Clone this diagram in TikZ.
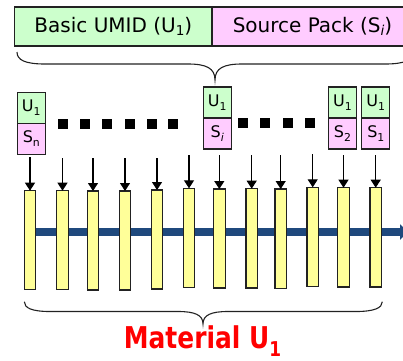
\documentclass[tikz,border=0pt]{standalone}
\usepackage{fontspec}
\setmainfont{DejaVu Sans}
\newfontfamily\matfont{DejaVu Sans}[FakeStretch=0.83]
\usetikzlibrary{arrows.meta,backgrounds}
\definecolor{ugreen}{HTML}{CCFFCC}
\definecolor{spink}{HTML}{FFCCFF}
\definecolor{byellow}{HTML}{FFFF99}
\definecolor{ublue}{HTML}{1F497D}
\definecolor{edge}{HTML}{222222}
\newcommand\mysub[2][0.3ex]{\raisebox{-#1}{\scalebox{0.68}{#2}}}
\tikzset{
  barpart/.style={draw=edge, line width=1.4pt, inner sep=0pt, outer sep=0pt,
    minimum height=39pt, anchor=north west, font=\fontsize{20}{24}\selectfont},
  cell/.style={draw=edge, line width=1.3pt, inner sep=0pt, outer sep=0pt,
    minimum width=28pt, minimum height=31pt, font=\fontsize{16}{19}\selectfont},
  ucell/.style={cell, fill=ugreen, anchor=north west},
  scell/.style={cell, fill=spink, anchor=north},
  frame/.style={draw=edge, line width=1.1pt, inner sep=0pt, outer sep=0pt,
    fill=byellow, minimum width=11.5pt, anchor=north},
  feed/.style={draw=black, line width=1.1pt, -{Triangle[length=8pt,width=10pt]}},
  dot/.style={fill=black, inner sep=0pt, minimum size=10pt},
  brace/.style={draw=edge, line width=1.1pt}
}
\begin{document}
\begin{tikzpicture}[x=1pt,y=-1pt]
\useasboundingbox (0,0) rectangle (403,360);
% top bar
\node[barpart, fill=ugreen, minimum width=197.3pt] (umid) at (14.7,7) {Basic UMID (U\mysub[0.25ex]{1})};
\node[barpart, fill=spink, minimum width=201pt] (spack) at (212,7) {Source Pack (S\mysub[0.25ex]{\itshape i})};
% top brace
\draw[brace] (17,52) .. controls (17,60) and (25,64) .. (45,64) -- (188,64)
  .. controls (206,64) and (215,68) .. (215,80)
  .. controls (215,68) and (224,64) .. (242,64) -- (385,64)
  .. controls (405,64) and (413,60) .. (413,52);
% small UMID boxes
\node[ucell] (un) at (17.3,92.3) {U\mysub[0.4ex]{1}};
\node[scell] (sn) at (un.south) {S\mysub[0.4ex]{n}};
\node[ucell] (ui) at (203.3,87) {U\mysub[0.4ex]{1}};
\node[scell] (si) at (ui.south) {S\mysub[0.4ex]{\itshape i}};
\node[ucell] (u2) at (328.5,87) {U\mysub[0.4ex]{1}};
\node[scell] (s2) at (u2.south) {S\mysub[0.4ex]{2}};
\node[ucell] (u1) at (361.8,87) {U\mysub[0.4ex]{1}};
\node[scell] (s1) at (u1.south) {S\mysub[0.4ex]{1}};
% dots
\foreach \k/\x in {1/63,2/85,3/107,4/130,5/152,6/173}
  \node[dot] (da\k) at (\x,124) {};
\foreach \k/\x in {1/243,2/265,3/287.5,4/309.5}
  \node[dot] (db\k) at (\x,123) {};
% frames
\foreach \i/\cx/\t/\b in {1/30/190.7/289.3, 2/62.5/190.7/289.3, 3/93/191/290,
  4/125/191/290, 5/157/190/289, 6/189/188.3/287.3, 7/219.3/189/288,
  8/251.7/188.7/288, 9/280.7/189/288.3, 10/312.7/187.3/286.3,
  11/343.5/187.7/287, 12/375.7/187.7/287}
  \node[frame, minimum height=\b pt-\t pt] (b\i) at (\cx,\t) {};
% timeline behind frames
\coordinate (tstart) at (30,232);
\coordinate (tend) at (408,232);
\begin{pgfonlayer}{background}
\draw[line width=7.5pt, ublue, -{Triangle[length=8pt,width=15pt]}] (tstart) -- (tend);
\end{pgfonlayer}
% feed arrows
\foreach \i/\t in {1/157,2/158,3/158,4/158,5/158,6/155,7/155,8/155,9/155,10/154,11/155,12/155}
  \coordinate (a\i) at (b\i.north |- 0,\t);
\foreach \i in {1,...,12}
  \draw[feed] (a\i) -- (b\i.north);
% bottom brace
\draw[brace] (24.3,301.7) .. controls (24.3,308) and (32,311.5) .. (50,311.5) -- (178,311.5)
  .. controls (195,311.5) and (203,315) .. (203,324)
  .. controls (203,315) and (211,311.5) .. (228,311.5) -- (356,311.5)
  .. controls (374,311.5) and (382.3,308) .. (382.3,301.7);
\node[anchor=base, text=red, font=\matfont\bfseries\fontsize{30}{34}\selectfont, inner sep=0pt] (mat) at (202.5,348.3) {Material U\mysub[0.5ex]{1}};
\end{tikzpicture}
\end{document}
